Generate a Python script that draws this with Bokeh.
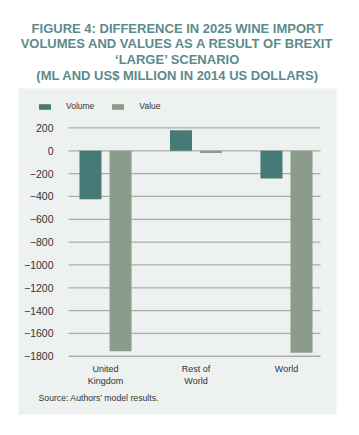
from bokeh.plotting import figure
from bokeh.models import (ColumnDataSource, Range1d, FixedTicker, Label, BoxAnnotation,
                          Legend, LegendItem, LinearAxis)
from bokeh.transform import dodge
from bokeh.embed import file_html
from bokeh.resources import INLINE

# ---- data ----
categories = ["United\nKingdom", "Rest of\nWorld", "World"]
volume = [-425, 180, -243]
value_usd = [-1755, -20, -1770]
y_ticks = [200, 0, -200, -400, -600, -800, -1000, -1200, -1400, -1600, -1800]
series_names = ["Volume", "Value"]
title_lines = [
    "FIGURE 4: DIFFERENCE IN 2025 WINE IMPORT",
    "VOLUMES AND VALUES AS A RESULT OF BREXIT",
    "\u2018LARGE\u2019 SCENARIO",
    "(ML AND US$ MILLION IN 2014 US DOLLARS)",
]
source_note = "Source: Authors\u2019 model results."

# ---- style ----
TEAL = "#467a77"
SAGE = "#8c9c8c"
PANEL = "#edf1f0"
GRID = "#a9adaa"
TITLE_C = "#5b8b8b"
TXT = "#333333"
FONT = "Liberation Sans"

W, H = 343, 419
# pixel <-> data mapping (frame = whole canvas)
PPX = 90.5            # px per category
X_ORIGIN = 105.0      # px of first category centre
PPY = 0.11415         # px per unit
Y_ZERO = 150.3        # px of value 0


def X(px):
    return (px - X_ORIGIN) / PPX


def Y(py):
    return (Y_ZERO - py) / PPY


idx = list(range(len(categories)))
src = ColumnDataSource(dict(idx=idx, volume=volume, value=value_usd))

p = figure(width=W, height=H, output_backend="svg", toolbar_location=None,
           x_range=Range1d(X(0), X(W)), y_range=Range1d(Y(H), Y(0)),
           x_axis_location=None, y_axis_location=None,
           min_border=0, min_border_left=0, min_border_right=0,
           min_border_top=0, min_border_bottom=0)
p.border_fill_color = "white"
p.background_fill_color = "white"
p.outline_line_color = None
p.xgrid.visible = False
p.ygrid.visible = False

# panel
p.add_layout(BoxAnnotation(left=X(18), right=X(336), top=Y(88), bottom=Y(414),
                           fill_color=PANEL, fill_alpha=1, line_color=None,
                           level="underlay"))

# grid lines
gx0, gx1 = X(68), X(320)
p.segment(x0=[gx0] * len(y_ticks), x1=[gx1] * len(y_ticks), y0=y_ticks, y1=y_ticks,
          line_color=GRID, line_width=1.3)

off = 0.166
bw = 0.243
r1 = p.vbar(x=dodge("idx", -off), top="volume", bottom=0, width=bw, source=src,
            fill_color=TEAL, line_color=None)
r2 = p.vbar(x=dodge("idx", off), top="value", bottom=0, width=bw, source=src,
            fill_color=SAGE, line_color=None)

# axes fixed inside the canvas
yax = LinearAxis(fixed_location=gx0, ticker=FixedTicker(ticks=y_ticks))
xax = LinearAxis(fixed_location=min(y_ticks), ticker=FixedTicker(ticks=idx))
xax.major_label_overrides = {i: c for i, c in zip(idx, categories)}
for ax in (xax, yax):
    ax.axis_line_color = None
    ax.major_tick_line_color = None
    ax.minor_tick_line_color = None
    ax.major_label_text_font = FONT
    ax.major_label_text_color = TXT
yax.major_label_text_font_size = "10.5px"
yax.major_label_standoff = 9
xax.major_label_text_font_size = "9px"
xax.major_label_standoff = 2
p.add_layout(yax, "left")
p.add_layout(xax, "below")

# legend
legend = Legend(items=[LegendItem(label=series_names[0], renderers=[r1]),
                       LegendItem(label=series_names[1], renderers=[r2])],
                orientation="horizontal", location=(37, 308),
                glyph_width=15, glyph_height=7, label_height=7,
                label_standoff=14, spacing=16, padding=0, margin=0,
                border_line_color=None, background_fill_alpha=0,
                label_text_font=FONT, label_text_font_size="8.5px",
                label_text_color=TXT)
p.add_layout(legend)

# title
baselines = [28.3, 43.3, 59.0, 75.0]
for t, b in zip(title_lines, baselines):
    p.add_layout(Label(x=X(177), y=Y(b), text=t,
                       text_align="center", text_baseline="alphabetic",
                       text_font=FONT, text_font_style="bold",
                       text_font_size="13px", text_color=TITLE_C))

p.add_layout(Label(x=X(38), y=Y(397), text=source_note,
                   text_align="left", text_baseline="middle",
                   text_font=FONT, text_font_size="8.7px", text_color=TXT))

open("out.html", "w").write(file_html(p, INLINE))
